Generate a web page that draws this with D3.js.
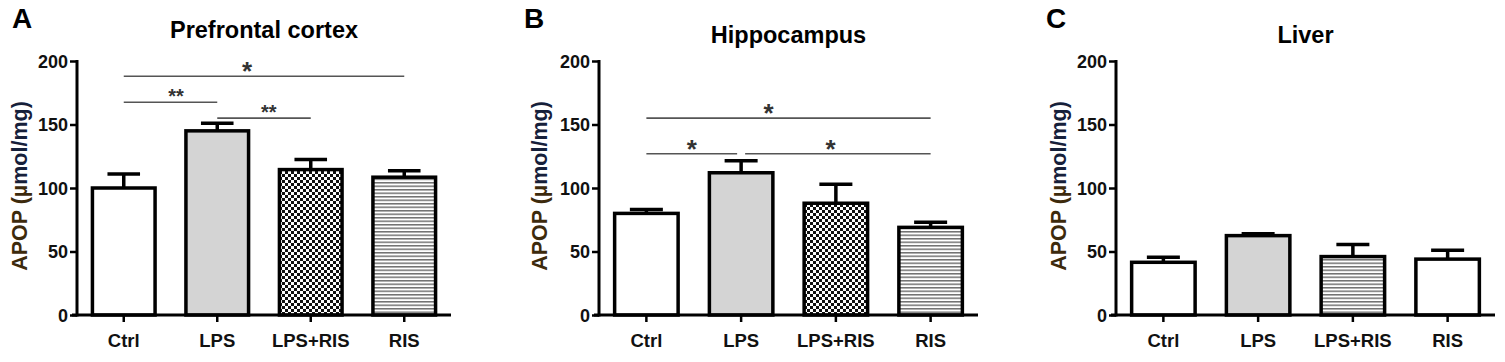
<!DOCTYPE html>
<html>
<head>
<meta charset="utf-8">
<script src="https://cdn.jsdelivr.net/npm/d3@7"></script>
<style>
body { margin: 0; background: #fff; }
svg { display: block; }
text { font-family: "Liberation Sans", Arial, sans-serif; }
</style>
</head>
<body>
<svg id="chart" width="1505" height="362"></svg>
<script>
// Daten
const groups = ['Ctrl', 'LPS', 'LPS+RIS', 'RIS'];
const yTicks = [0, 50, 100, 150, 200];

const pfcMean = [100, 145, 114.5, 108.5];
const pfcUpper = [111, 151, 122.5, 113.5];
const hipMean = [80, 112, 88, 69];
const hipUpper = [83, 121.5, 103, 73];
const livMean = [41.5, 62.5, 46, 44];
const livUpper = [45.5, 64, 55.5, 51];

// Signifikanzen: y in Einheiten (µmol/mg), at = Position des Sterns auf der Linie
const pfcSig = [
    { a: 'Ctrl', b: 'RIS', y: 188, label: '*', at: 0.44 },
    { a: 'Ctrl', b: 'LPS', y: 167.5, label: '**', at: 0.56 },
    { a: 'LPS', b: 'LPS+RIS', y: 155, label: '**', at: 0.55 }
];
const hipSig = [
    { a: 'Ctrl', b: 'RIS', y: 155, label: '*', at: 0.43 },
    { a: 'Ctrl', b: 'LPS', y: 127, label: '*', at: 0.5 },
    { a: 'LPS', b: 'RIS', y: 127, label: '*', at: 0.46 }
];

const panels = [
    { letter: 'A', title: 'Prefrontal cortex', mean: pfcMean, upper: pfcUpper,
      fills: ['#fff', '#d4d4d4', 'url(#checker)', 'url(#stripes)'], sig: pfcSig,
      x0: 77, x1: 451, letterX: 12, titleY: 38, labelX: 27 },
    { letter: 'B', title: 'Hippocampus', mean: hipMean, upper: hipUpper,
      fills: ['#fff', '#d4d4d4', 'url(#checker)', 'url(#stripes)'], sig: hipSig,
      x0: 599, x1: 978, letterX: 524, titleY: 43, labelX: 547 },
    { letter: 'C', title: 'Liver', mean: livMean, upper: livUpper,
      fills: ['#fff', '#d4d4d4', 'url(#stripes)', '#fff'], sig: [],
      x0: 1116, x1: 1495, letterX: 1046, titleY: 43, labelX: 1066 }
];

const svg = d3.select('#chart');

// Muster
const defs = svg.append('defs');
const checker = defs.append('pattern')
    .attr('id', 'checker')
    .attr('patternUnits', 'userSpaceOnUse')
    .attr('width', 6).attr('height', 6);
checker.append('rect').attr('width', 6).attr('height', 6).attr('fill', '#fff');
checker.append('rect').attr('width', 3).attr('height', 3).attr('fill', '#111');
checker.append('rect').attr('x', 3).attr('y', 3).attr('width', 3).attr('height', 3).attr('fill', '#111');

const stripes = defs.append('pattern')
    .attr('id', 'stripes')
    .attr('patternUnits', 'userSpaceOnUse')
    .attr('width', 8).attr('height', 3.5);
stripes.append('rect').attr('width', 8).attr('height', 3.5).attr('fill', '#fff');
stripes.append('rect').attr('y', 0).attr('width', 8).attr('height', 1.5).attr('fill', '#707070');

const yScale = d3.scaleLinear().domain([0, 200]).range([315, 61]);

panels.forEach(p => drawPanel(p));

function drawPanel(p) {
    const g = svg.append('g');

    const xScale = d3.scaleBand()
        .domain(groups)
        .range([p.x0, p.x1])
        .paddingInner(0.33)
        .paddingOuter(0.165);
    const bw = xScale.bandwidth();
    const cx = d => xScale(d) + bw / 2;

    // Buchstabe
    g.append('text')
        .attr('x', p.letterX)
        .attr('y', 28)
        .style('font-size', '28px')
        .style('font-weight', '700')
        .text(p.letter);

    // Titel
    g.append('text')
        .attr('x', (p.x0 + p.x1) / 2)
        .attr('y', p.titleY)
        .attr('text-anchor', 'middle')
        .style('font-size', '23.5px')
        .style('font-weight', '700')
        .text(p.title);

    // Y-Achsen-Label
    const lab = g.append('text')
        .attr('transform', `translate(${p.labelX},186) rotate(-90)`)
        .attr('text-anchor', 'middle')
        .style('font-size', '21.5px')
        .style('font-weight', '700');
    lab.append('tspan').attr('fill', '#3d2a0c').text('APOP (µ');
    lab.append('tspan').attr('fill', '#16203a').text('mol/mg)');

    // Balken
    const data = groups.map((k, i) => ({ k, m: p.mean[i], u: p.upper[i], fill: p.fills[i] }));

    // Fehlerbalken
    g.selectAll('.err')
        .data(data)
        .enter()
        .append('line')
        .attr('x1', d => cx(d.k)).attr('x2', d => cx(d.k))
        .attr('y1', d => yScale(d.m)).attr('y2', d => yScale(d.u))
        .style('stroke', '#000').style('stroke-width', 3.5);
    g.selectAll('.cap')
        .data(data)
        .enter()
        .append('line')
        .attr('x1', d => cx(d.k) - bw * 0.26).attr('x2', d => cx(d.k) + bw * 0.26)
        .attr('y1', d => yScale(d.u)).attr('y2', d => yScale(d.u))
        .style('stroke', '#000').style('stroke-width', 3.5);

    g.selectAll('.bar')
        .data(data)
        .enter()
        .append('rect')
        .attr('x', d => xScale(d.k))
        .attr('y', d => yScale(d.m))
        .attr('width', bw)
        .attr('height', d => yScale(0) - yScale(d.m))
        .attr('fill', d => d.fill)
        .style('stroke', '#000')
        .style('stroke-width', 3.5);

    // Achsen
    const yAxis = g.append('g')
        .attr('transform', `translate(${p.x0},0)`)
        .call(d3.axisLeft(yScale).tickValues(yTicks).tickSize(7).tickSizeOuter(0).tickPadding(2));
    const xAxis = g.append('g')
        .attr('transform', `translate(0,${yScale(0)})`)
        .call(d3.axisBottom(xScale).tickSize(7).tickSizeOuter(0).tickPadding(8));

    [yAxis, xAxis].forEach(ax => {
        ax.select('.domain').style('stroke', '#000').style('stroke-width', 3);
        ax.selectAll('.tick line').style('stroke', '#000').style('stroke-width', 2.5);
        ax.selectAll('.tick text')
            .style('font-family', '"Liberation Sans", Arial, sans-serif')
            .style('font-weight', '700')
            .style('fill', '#111');
    });
    yAxis.select('.domain').attr('d', `M0,${yScale(0) + 1.5}V${yScale(200) - 1}`);
    xAxis.select('.domain').attr('d', `M${p.x0 - 5},0H${p.x1}`);
    yAxis.selectAll('.tick text').style('font-size', '18px').attr('dy', '0.36em');
    xAxis.selectAll('.tick text').style('font-size', '18.5px').attr('dy', '0.9em');

    // Signifikanz-Linien
    p.sig.forEach(s => {
        const shared = k => p.sig.some(o => o !== s && o.y === s.y && (o.a === k || o.b === k));
        const xa = cx(s.a) + (shared(s.a) ? 4 : 0);
        const xb = cx(s.b) - (shared(s.b) ? 4 : 0);
        const yy = yScale(s.y);
        g.append('line')
            .attr('x1', xa).attr('x2', xb)
            .attr('y1', yy).attr('y2', yy)
            .style('stroke', '#555')
            .style('stroke-width', 1.6);
        const fs = s.label.length > 1 ? 20 : 26;
        g.append('text')
            .attr('x', xa + (xb - xa) * s.at)
            .attr('y', yy - 11 + fs * 0.57)
            .attr('text-anchor', 'middle')
            .style('font-size', fs + 'px')
            .style('font-weight', '700')
            .style('fill', '#333')
            .text(s.label);
    });
}
</script>
</body>
</html>
